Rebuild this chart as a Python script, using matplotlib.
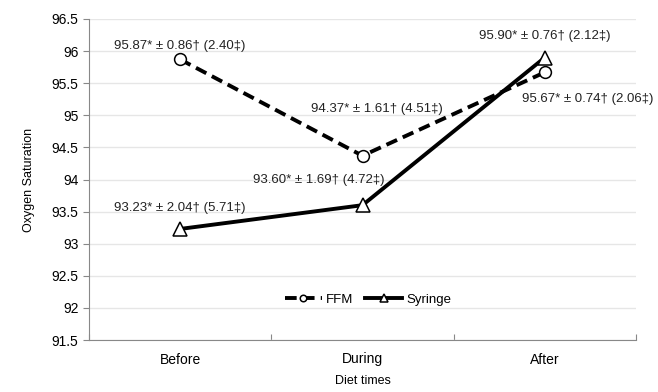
import numpy as np
import matplotlib.pyplot as plt

plt.rcParams['font.family'] = ['Liberation Sans', 'DejaVu Sans']

# Data
times = ["Before", "During", "After"]
ffm = [95.87, 94.37, 95.67]
syringe = [93.23, 93.60, 95.90]
ffm_labels = ["95.87* \u00b1 0.86\u2020 (2.40\u2021)",
              "94.37* \u00b1 1.61\u2020 (4.51\u2021)",
              "95.67* \u00b1 0.74\u2020 (2.06\u2021)"]
syr_labels = ["93.23* \u00b1 2.04\u2020 (5.71\u2021)",
              "93.60* \u00b1 1.69\u2020 (4.72\u2021)",
              "95.90* \u00b1 0.76\u2020 (2.12\u2021)"]

fig = plt.figure(figsize=(6.58, 3.92), dpi=100)
ax = fig.add_axes([89/658, 1 - 340/392, 547/658, 321/392])

x = np.arange(len(times))
ax.plot(x, ffm, '--', color='black', lw=2.8, dashes=(3, 1.6), marker='o', ms=8.5,
        mfc='white', mec='black', mew=1.1, label='FFM', zorder=3)
ax.plot(x, syringe, '-', color='black', lw=2.8, marker='^', ms=9.5,
        mfc='white', mec='black', mew=1.1, label='Syringe', zorder=3)

# annotation offsets in pixels
ffm_off = [(0, 13), (14, 47), (43, -27)]
syr_off = [(0, 21), (-44, 25), (0, 22)]
for i in range(3):
    ax.annotate(ffm_labels[i], (x[i], ffm[i]), xytext=ffm_off[i], textcoords='offset pixels',
                ha='center', va='center', fontsize=9.5, color='#222222')
    ax.annotate(syr_labels[i], (x[i], syringe[i]), xytext=syr_off[i], textcoords='offset pixels',
                ha='center', va='center', fontsize=9.5, color='#222222')

ax.set_xlim(-0.5, 2.5)
ax.set_ylim(91.5, 96.5)
ax.set_yticks(np.arange(91.5, 96.51, 0.5))
ax.set_yticklabels(["91.5", "92", "92.5", "93", "93.5", "94", "94.5", "95", "95.5", "96", "96.5"])
ax.yaxis.grid(True, color='#e6e6e6', lw=1)
ax.set_axisbelow(True)

ax.set_xticks([-0.5, 0.5, 1.5, 2.5])
ax.set_xticklabels([])
ax.set_xticks(x, minor=True)
ax.set_xticklabels(times, minor=True)
ax.tick_params(axis='x', which='minor', length=0, pad=9, labelsize=10)
ax.tick_params(axis='x', which='major', length=4, direction='in', color='#888888')
ax.tick_params(axis='y', length=4, color='#888888', labelsize=10)

for s in ['top', 'right']:
    ax.spines[s].set_visible(False)
for s in ['left', 'bottom']:
    ax.spines[s].set_color('#888888')

ax.set_ylabel("Oxygen Saturation", fontsize=9, labelpad=12)
ax.set_xlabel("Diet times", fontsize=9, labelpad=6)

ax.legend(loc='center', bbox_to_anchor=(0.51, 0.125), ncol=2, frameon=False,
          fontsize=9.5, handlelength=2.8, handletextpad=0.3, columnspacing=0.9, markerscale=0.55)

fig.savefig("out.png", dpi=100)
